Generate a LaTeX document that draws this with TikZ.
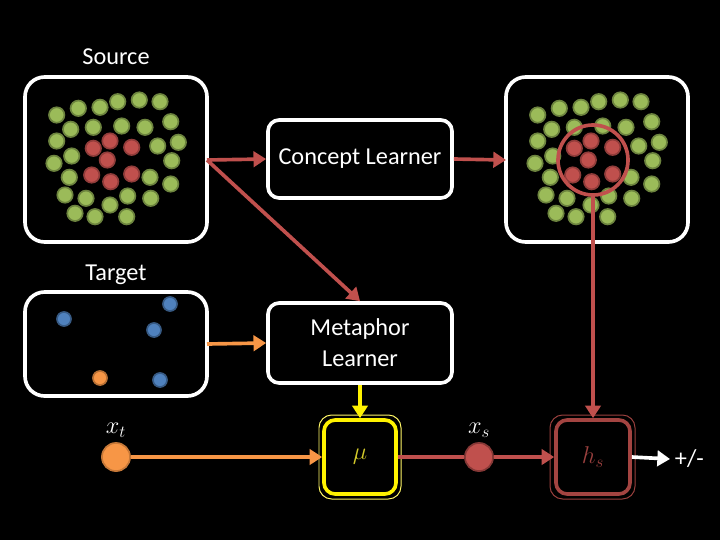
\documentclass[tikz,border=0pt]{standalone}
\usepackage{fontspec}
\setmainfont{Carlito}
\usetikzlibrary{positioning,calc,arrows.meta}
\definecolor{myred}{RGB}{192,80,77}
\definecolor{mygreen}{RGB}{155,187,89}
\definecolor{myblue}{RGB}{79,129,189}
\definecolor{myorange}{RGB}{247,150,70}
\tikzset{
    % rounded frame
    frame/.style={
        draw=white,
        line width=2.6pt,
        rounded corners=14pt,
    },
    learner/.style={
        draw=white,
        line width=2.6pt,
        rounded corners=8pt,
        text=white,
        align=center,
        font=\LARGE,
    },
    gdot/.style={circle, fill=mygreen, draw=mygreen!70!black, line width=1.2pt, minimum size=11pt, inner sep=0pt},
    rdot/.style={circle, fill=myred, draw=myred!75!black, line width=1.2pt, minimum size=11pt, inner sep=0pt},
    bdot/.style={circle, fill=myblue, draw=myblue!70!black, line width=1.2pt, minimum size=10pt, inner sep=0pt},
    odot/.style={circle, fill=myorange, draw=myorange!75!black, line width=1.2pt, minimum size=10pt, inner sep=0pt},
    link/.style={line width=2.6pt, -{Triangle[length=9pt,width=11pt]}},
    lbl/.style={text=white, font=\LARGE},
}
\newcommand{\greens}{56.7/115,78.3/108.3,100/107.3,117.7/101.7,139.3/100,160/101.7,170.7/121.7,145/127.3,121.7/126,93.3/127.3,70.7/129.3,56.7/141,71.7/156,54/163.3,69.3/177.3,65/195,86/198.3,75/213.3,95/216.7,110/205,126.7/216.7,127.7/196,150.7/198.3,150/177.3,170.7/184,171.7/160.7,178.3/142.3,157.7/146}
\newcommand{\reds}{93.3/148.3,110/141,131.7/147.3,107.3/160,91.7/175,110.7/181.7,131.7/174}
\begin{document}
\begin{tikzpicture}[x=0.025cm,y=-0.025cm]
    \fill[black] (0,0) rectangle (720,540);
    \useasboundingbox (0,0) rectangle (720,540);

    % source, target and result frames
    \node[lbl] (srclbl) at (116,57) {Source};
    \node[lbl] (tgtlbl) at (116,275) {Target};
    \draw[frame] (25,77) rectangle (207,242);
    \draw[frame] (506,77) rectangle (688,242);
    \draw[frame] (25,292) rectangle (207,396);

    \foreach \x/\y [count=\i] in \greens {
        \node[gdot] (g\i) at (\x,\y) {};
        \node[gdot] (gg\i) at (\x+481,\y) {};
    }
    \foreach \x/\y [count=\i] in \reds {
        \node[rdot] (r\i) at (\x,\y) {};
        \node[rdot] (rr\i) at (\x+481,\y) {};
    }
    \node[circle, draw=myred, line width=2.6pt, inner sep=0pt, minimum size=1.75cm] (hilite) at (593,160) {};

    \node[bdot] (b1) at (170,304) {};
    \node[bdot] (b2) at (64,319) {};
    \node[bdot] (b3) at (154,330) {};
    \node[bdot] (b4) at (160,380) {};
    \node[odot] (o1) at (100,378) {};

    % learners
    \node[learner, minimum width=4.6cm, minimum height=1.95cm] (concept) at (360,159) {Concept Learner};
    \node[learner, minimum width=4.6cm, minimum height=2cm] (metaphor) at (360,343) {Metaphor\\Learner};

    % pipeline
    \coordinate (srcout) at (207,160);
    \coordinate (resin) at (506,160);
    \coordinate (tgtout) at (207,344);
    \node[circle, fill=myorange, draw=myorange!80!black, line width=1.2pt, minimum size=20pt, inner sep=0pt] (xt) at (116,457) {};
    \node[lbl, above=0pt of xt] {$x_t$};
    \draw[yellow!60!white, line width=0.7pt, rounded corners=9pt] (319,415) rectangle (401,499);
    \node[draw=yellow, line width=2.6pt, rounded corners=8pt, minimum width=1.8cm, minimum height=1.85cm, text=yellow!80!black, font=\LARGE] (mu) at (360,457) {$\mu$};
    \node[circle, fill=myred, draw=myred!70!black, line width=1.2pt, minimum size=20pt, inner sep=0pt] (xs) at (479,457) {};
    \node[lbl, above=0pt of xs] {$x_s$};
    \draw[myred!80!black, line width=0.7pt, rounded corners=9pt] (550,415) rectangle (635,499);
    \node[draw=myred!85!black, line width=2.6pt, rounded corners=8pt, minimum width=1.85cm, minimum height=1.85cm, text=myred!80!black, font=\LARGE] (hs) at (593,457) {$h_s$};
    \node[lbl, anchor=west] (sign) at (670,459) {+/-};

    \draw[link, myred] (srcout) -- (concept.west);
    \draw[link, myred] (concept.east) -- (resin);
    \draw[link, myred] (srcout) -- (metaphor.north);
    \draw[link, myorange] (tgtout) -- (metaphor.west);
    \draw[link, yellow] (metaphor.south) -- (mu.north);
    \draw[link, myorange] (xt) -- (mu.west);
    \draw[line width=2.6pt, myred] (mu.east) -- (xs);
    \draw[link, myred] (xs) -- (hs.west);
    \draw[link, myred] (hilite.south) -- (hs.north);
    \draw[link, white] (hs.east) -- (sign.west);
\end{tikzpicture}
\end{document}
